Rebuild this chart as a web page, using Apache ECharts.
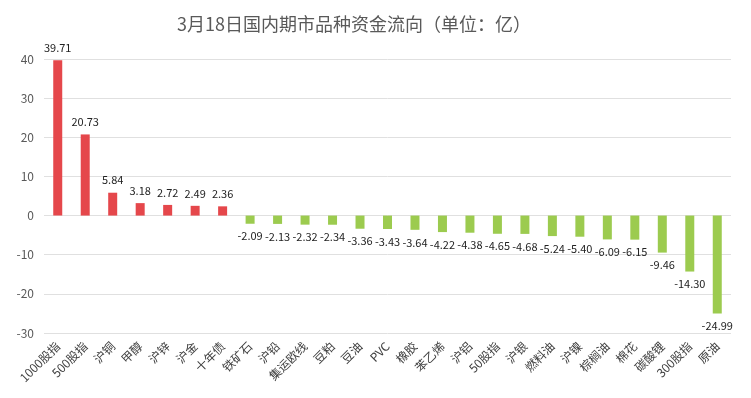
<!DOCTYPE html>
<html>
<head>
<meta charset="utf-8">
<script src="https://cdn.jsdelivr.net/npm/echarts@6/dist/echarts.min.js"></script>
<style>
  html, body { margin: 0; padding: 0; background: #fff; }
  #main { width: 751px; height: 398px; }
</style>
</head>
<body>
<div id="main"></div>
<script>
// 品种与资金流向（亿）
const categories = ['1000股指', '500股指', '沪铜', '甲醇', '沪锌', '沪金', '十年债', '铁矿石', '沪铅', '集运欧线',
  '豆粕', '豆油', 'PVC', '橡胶', '苯乙烯', '沪铝', '50股指', '沪银', '燃料油', '沪镍', '棕榈油', '棉花', '碳酸锂', '300股指', '原油'];
const flows = [39.71, 20.73, 5.84, 3.18, 2.72, 2.49, 2.36, -2.09, -2.13, -2.32,
  -2.34, -3.36, -3.43, -3.64, -4.22, -4.38, -4.65, -4.68, -5.24, -5.40, -6.09, -6.15, -9.46, -14.30, -24.99];
const yTicks = [-30, -20, -10, 0, 10, 20, 30, 40];

const chart = echarts.init(document.getElementById('main'), null, { renderer: 'canvas' });

const option = {
  backgroundColor: '#ffffff',
  textStyle: { fontFamily: '"Noto Sans CJK SC", "Noto Sans", sans-serif' },
  title: {
    text: '3月18日国内期市品种资金流向（单位：亿）',
    left: 349,
    textAlign: 'center',
    top: 10,
    textStyle: { fontSize: 18, fontWeight: 'normal', color: '#595959' }
  },
  grid: { left: 44, right: 20, top: 59, bottom: 65 },
  xAxis: {
    type: 'category',
    data: categories,
    position: 'bottom',
    axisLine: { show: false, onZero: false },
    axisTick: { show: false },
    axisLabel: { rotate: 45, interval: 0, fontSize: 12, color: '#404040', margin: 11 }
  },
  yAxis: {
    type: 'value',
    min: yTicks[0],
    max: yTicks[yTicks.length - 1],
    interval: 10,
    axisLine: { show: false },
    axisTick: { show: false },
    axisLabel: { fontSize: 12, color: '#595959', margin: 10 },
    splitLine: { lineStyle: { color: '#e0e0e0' } }
  },
  series: [{
    type: 'bar',
    barWidth: 9,
    data: flows.map(v => ({
      value: v,
      itemStyle: { color: v >= 0 ? '#e5474b' : '#9ccb4f' },
      label: { position: v >= 0 ? 'top' : 'bottom' }
    })),
    label: {
      show: true,
      fontSize: 11,
      color: '#222',
      distance: 7,
      formatter: p => p.value.toFixed(2)
    }
  }]
};

chart.setOption(option);
</script>
</body>
</html>
